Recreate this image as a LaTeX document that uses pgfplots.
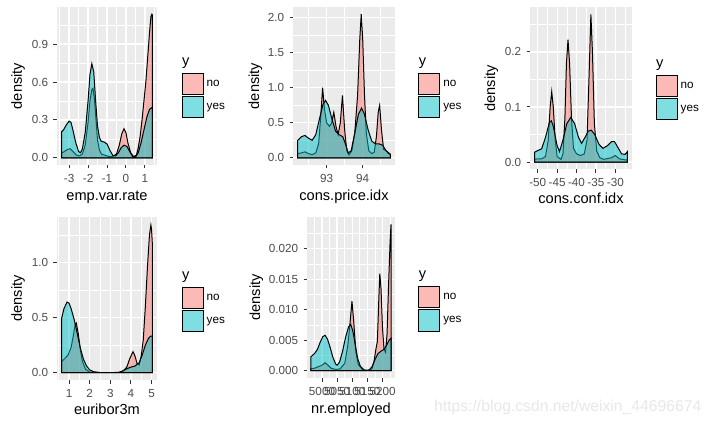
\documentclass[border=0pt]{standalone}
\usepackage{fontspec}
\setmainfont{Liberation Sans}
\usepackage{pgfplots}
\pgfplotsset{compat=1.18}
\definecolor{ggbg}{HTML}{EBEBEB}
\definecolor{ggred}{HTML}{F8766D}
\definecolor{ggteal}{HTML}{00BFC4}
\definecolor{tickc}{HTML}{333333}
\definecolor{labc}{HTML}{4D4D4D}
\definecolor{wmark}{HTML}{E8E8E8}
\newcommand{\ticksize}{\fontsize{11.7bp}{13bp}\selectfont}
\newcommand{\titlesize}{\fontsize{14.6bp}{17bp}\selectfont}
\pgfplotsset{
  ggpanel/.style={
    scale only axis,
    anchor=north west,
    axis background/.style={fill=ggbg},
    axis line style={draw=none},
    tick align=outside,
    xtick pos=bottom, ytick pos=left,
    major tick length=3.5bp,
    minor tick length=0bp,
    every tick/.style={color=tickc, line width=1bp},
    xmajorgrids, ymajorgrids, xminorgrids, yminorgrids,
    major grid style={white, line width=1.3bp},
    minor grid style={white, line width=0.65bp},
    scaled ticks=false,
    tick label style={font=\ticksize, color=labc},
    xticklabel style={inner sep=0pt, yshift=-5.5bp},
    yticklabel style={inner sep=0pt, xshift=-5.2bp},
    xlabel style={font=\titlesize, anchor=base, inner sep=0pt},
    ylabel style={font=\titlesize, anchor=base, inner sep=0pt},
    ylabel={density},
    legend cell align=left,
    legend style={draw=none, fill=none, inner sep=0pt, outer sep=0pt,
      at={(axis description cs:1,1)}, anchor=north west,
      row sep=1.5bp, column sep=3bp,
      nodes={inner sep=0pt, font=\ticksize, text=black}},
    legend image code/.code={\draw[#1] (0bp,-10.5bp) rectangle (21bp,10.5bp);},
  },
  gg/.style={draw=black, line width=1bp, fill opacity=0.5},
}
\begin{document}
\begin{tikzpicture}
\useasboundingbox (0,0) rectangle (712bp,424bp);
\fill[white] (0,0) rectangle (712bp,424bp);

% ---------------- Panel 1: emp.var.rate
\begin{axis}[ggpanel, name=p1, at={(57bp,417bp)}, width=100bp, height=158bp,
  xmin=-3.64, xmax=1.64, ymin=-0.057, ymax=1.194,
  xtick={-3,-2,-1,0,1}, xticklabels={-3,-2,-1,0,1},
  minor xtick={-3.5,-2.5,-1.5,-0.5,0.5,1.5},
  ytick={0,0.3,0.6,0.9}, yticklabels={0.0,0.3,0.6,0.9},
  minor ytick={0.15,0.45,0.75,1.05},
  xlabel={emp.var.rate},
  xlabel style={at={(axis description cs:0.5,-0.2247)}},
  ylabel style={at={(axis description cs:-0.35,0.5)}},
  legend style={xshift=24.7bp, yshift=-66bp}]
\addplot[gg, fill=ggred] table {
-3.4 0.04
-3.3 0.045
-3.1 0.065
-2.95 0.072
-2.8 0.05
-2.6 0.02
-2.45 0.015
-2.3 0.03
-2.15 0.1
-2.0 0.28
-1.9 0.45
-1.8 0.54
-1.74 0.55
-1.66 0.46
-1.58 0.3
-1.5 0.14
-1.4 0.06
-1.3 0.03
-1.1 0.02
-0.9 0.01
-0.7 0.01
-0.5 0.03
-0.35 0.1
-0.22 0.19
-0.1 0.23
0.0 0.2
0.1 0.12
0.25 0.04
0.4 0.01
0.55 0.02
0.65 0.08
0.75 0.17
0.85 0.3
0.95 0.45
1.05 0.6
1.15 0.8
1.25 1.0
1.32 1.12
1.37 1.137
1.4 1.13
} \closedcycle;
\addlegendentry{no}
\addplot[gg, fill=ggteal] table {
-3.4 0.205
-3.3 0.22
-3.15 0.26
-3.0 0.29
-2.9 0.28
-2.8 0.22
-2.65 0.12
-2.5 0.05
-2.4 0.04
-2.3 0.07
-2.15 0.2
-2.0 0.45
-1.9 0.66
-1.8 0.745
-1.7 0.68
-1.6 0.45
-1.5 0.25
-1.4 0.16
-1.3 0.13
-1.15 0.125
-1.0 0.11
-0.85 0.06
-0.7 0.02
-0.55 0.015
-0.4 0.04
-0.25 0.08
-0.1 0.1
0.05 0.09
0.2 0.05
0.35 0.01
0.5 0.005
0.65 0.04
0.8 0.12
0.95 0.22
1.1 0.32
1.25 0.385
1.4 0.4
} \closedcycle;
\addlegendentry{yes}
\end{axis}
\node[font=\titlesize, anchor=base west, inner sep=0pt] at ([xshift=25bp,yshift=-59bp]p1.north east) {y};

% ---------------- Panel 2: cons.price.idx
\begin{axis}[ggpanel, name=p2, at={(293bp,417bp)}, width=102bp, height=158bp,
  xmin=92.07, xmax=94.895, ymin=-0.1025, ymax=2.1525,
  xtick={93,94}, xticklabels={93,94},
  minor xtick={92.5,93.5,94.5},
  ytick={0,0.5,1,1.5,2}, yticklabels={0.0,0.5,1.0,1.5,2.0},
  minor ytick={0.25,0.75,1.25,1.75},
  xlabel={cons.price.idx},
  xlabel style={at={(axis description cs:0.5,-0.2247)}},
  ylabel style={at={(axis description cs:-0.333,0.5)}},
  legend style={xshift=23.3bp, yshift=-66bp}]
\addplot[gg, fill=ggred] table {
92.201 0.06
92.3 0.07
92.4 0.085
92.5 0.06
92.6 0.045
92.7 0.07
92.78 0.2
92.84 0.6
92.89 1.0
92.94 0.7
93.0 0.5
93.08 0.45
93.14 0.5
93.2 0.65
93.26 0.45
93.32 0.33
93.38 0.5
93.44 0.89
93.5 0.4
93.56 0.1
93.62 0.04
93.7 0.1
93.78 0.35
93.86 0.9
93.92 1.7
93.96 2.05
94.0 1.7
94.05 0.9
94.1 0.35
94.17 0.1
94.25 0.06
94.32 0.08
94.38 0.3
94.43 0.65
94.47 0.75
94.52 0.4
94.58 0.12
94.65 0.1
94.72 0.07
94.767 0.05
} \closedcycle;
\addlegendentry{no}
\addplot[gg, fill=ggteal] table {
92.201 0.25
92.3 0.3
92.4 0.32
92.5 0.28
92.6 0.25
92.7 0.33
92.8 0.55
92.9 0.76
92.97 0.82
93.05 0.75
93.15 0.55
93.25 0.38
93.35 0.33
93.45 0.3
93.52 0.2
93.6 0.07
93.68 0.1
93.78 0.35
93.88 0.62
93.97 0.71
94.05 0.62
94.15 0.4
94.25 0.24
94.35 0.2
94.45 0.2
94.55 0.18
94.65 0.1
94.72 0.06
94.767 0.05
} \closedcycle;
\addlegendentry{yes}
\end{axis}
\node[font=\titlesize, anchor=base west, inner sep=0pt] at ([xshift=23.6bp,yshift=-59bp]p2.north east) {y};

% ---------------- Panel 3: cons.conf.idx
\begin{axis}[ggpanel, name=p3, at={(530bp,417bp)}, width=102bp, height=162.5bp,
  xmin=-52.0, xmax=-25.7, ymin=-0.0134, ymax=0.2814,
  xtick={-50,-45,-40,-35,-30}, xticklabels={-50,-45,-40,-35,-30},
  minor xtick={-47.5,-42.5,-37.5,-32.5,-27.5},
  ytick={0,0.1,0.2}, yticklabels={0.0,0.1,0.2},
  minor ytick={0.05,0.15,0.25},
  xlabel={cons.conf.idx},
  xlabel style={at={(axis description cs:0.5,-0.2123)}},
  ylabel style={at={(axis description cs:-0.343,0.5)}},
  legend style={xshift=23.7bp, yshift=-68bp}]
\addplot[gg, fill=ggred] table {
-50.8 0.005
-50 0.006
-49 0.006
-48 0.01
-47.3 0.04
-46.8 0.1
-46.4 0.128
-46.0 0.1
-45.5 0.04
-45 0.01
-44 0.005
-43.5 0.015
-43 0.08
-42.6 0.18
-42.2 0.222
-41.8 0.18
-41.3 0.08
-40.8 0.025
-40 0.015
-39 0.012
-38 0.015
-37.3 0.04
-36.8 0.15
-36.3 0.268
-35.9 0.2
-35.4 0.07
-34.8 0.02
-34 0.008
-33 0.005
-31 0.008
-30 0.012
-29 0.006
-27.5 0.004
-26.9 0.004
} \closedcycle;
\addlegendentry{no}
\addplot[gg, fill=ggteal] table {
-50.8 0.018
-50 0.021
-49 0.024
-48 0.045
-47 0.072
-46.5 0.075
-46 0.065
-45 0.03
-44.4 0.019
-43.5 0.04
-42.5 0.07
-41.5 0.081
-40.5 0.07
-39.5 0.045
-38.7 0.034
-37.8 0.045
-37 0.056
-36.2 0.058
-35.3 0.05
-34.2 0.032
-33.2 0.025
-32 0.03
-31 0.037
-30.2 0.037
-29.2 0.025
-28.4 0.015
-27.5 0.014
-26.9 0.019
} \closedcycle;
\addlegendentry{yes}
\end{axis}
\node[font=\titlesize, anchor=base west, inner sep=0pt] at ([xshift=24bp,yshift=-61bp]p3.north east) {y};

% ---------------- Panel 4: euribor3m
\begin{axis}[ggpanel, name=p4, at={(57bp,207bp)}, width=100bp, height=163bp,
  xmin=0.4135, xmax=5.2655, ymin=-0.067, ymax=1.412,
  xtick={1,2,3,4,5}, xticklabels={1,2,3,4,5},
  minor xtick={0.5,1.5,2.5,3.5,4.5},
  ytick={0,0.5,1}, yticklabels={0.0,0.5,1.0},
  minor ytick={0.25,0.75,1.25},
  xlabel={euribor3m},
  xlabel style={at={(axis description cs:0.5,-0.2147)}},
  ylabel style={at={(axis description cs:-0.35,0.5)}},
  legend style={xshift=24.7bp, yshift=-69.7bp}]
\addplot[gg, fill=ggred] table {
0.634 0.1
0.8 0.13
0.95 0.16
1.1 0.23
1.2 0.33
1.3 0.44
1.35 0.45
1.45 0.35
1.55 0.2
1.65 0.1
1.8 0.03
2.0 0.005
2.5 0
3.4 0
3.6 0.01
3.8 0.05
3.95 0.13
4.1 0.19
4.2 0.15
4.3 0.08
4.4 0.07
4.5 0.15
4.6 0.3
4.7 0.6
4.8 0.95
4.9 1.25
4.97 1.34
5.0 1.3
5.045 1.15
} \closedcycle;
\addlegendentry{no}
\addplot[gg, fill=ggteal] table {
0.634 0.49
0.75 0.58
0.9 0.64
1.0 0.63
1.1 0.58
1.25 0.48
1.4 0.35
1.55 0.22
1.7 0.12
1.85 0.06
2.0 0.025
2.2 0.008
2.5 0.001
3.0 0
3.4 0.002
3.6 0.015
3.8 0.035
4.0 0.05
4.2 0.06
4.4 0.09
4.55 0.16
4.7 0.25
4.85 0.31
4.95 0.33
5.045 0.33
} \closedcycle;
\addlegendentry{yes}
\end{axis}
\node[font=\titlesize, anchor=base west, inner sep=0pt] at ([xshift=25bp,yshift=-62.7bp]p4.north east) {y};

% ---------------- Panel 5: nr.employed
\begin{axis}[ggpanel, name=p5, at={(307bp,207bp)}, width=88bp, height=161bp,
  xmin=4950.4, xmax=5241.3, ymin=-0.0012, ymax=0.0252,
  xtick={5000,5050,5100,5150,5200}, xticklabels={5000,5050,5100,5150,5200},
  minor xtick={4975,5025,5075,5125,5175,5225},
  ytick={0,0.005,0.01,0.015,0.02}, yticklabels={0.000,0.005,0.010,0.015,0.020},
  minor ytick={0.0025,0.0075,0.0125,0.0175,0.0225},
  xlabel={nr.employed},
  xlabel style={at={(axis description cs:0.5,-0.2174)}},
  ylabel style={at={(axis description cs:-0.534,0.5)}},
  legend style={xshift=23.3bp, yshift=-69bp}]
\addplot[gg, fill=ggred] table {
4963.6 0.0003
4975 0.0004
4990 0.0007
5000 0.0009
5010 0.0013
5020 0.0009
5030 0.0004
5045 0.0002
5060 0.0003
5075 0.0012
5085 0.004
5093 0.008
5099 0.0114
5105 0.008
5112 0.003
5120 0.001
5135 0.0001
5150 0
5165 0.0003
5172 0.0015
5178 0.0035
5183 0.0048
5188 0.012
5191 0.0159
5195 0.0135
5200 0.007
5205 0.0035
5210 0.003
5215 0.006
5220 0.014
5225 0.021
5228.1 0.024
} \closedcycle;
\addlegendentry{no}
\addplot[gg, fill=ggteal] table {
4963.6 0.0023
4975 0.0028
4985 0.0035
4995 0.0048
5003 0.0056
5010 0.0058
5018 0.0052
5027 0.0038
5036 0.0022
5045 0.0011
5050 0.0009
5058 0.0014
5068 0.0032
5078 0.0055
5088 0.0072
5095 0.0076
5102 0.0065
5110 0.0042
5118 0.002
5127 0.0007
5140 0.0001
5155 0.0001
5165 0.0006
5175 0.0018
5185 0.0028
5195 0.0032
5205 0.0035
5215 0.0043
5222 0.005
5228.1 0.0053
} \closedcycle;
\addlegendentry{yes}
\end{axis}
\node[font=\titlesize, anchor=base west, inner sep=0pt] at ([xshift=23.6bp,yshift=-62bp]p5.north east) {y};

\node[font=\fontsize{15.7bp}{18bp}\selectfont, text=wmark, anchor=base west, inner sep=0pt] at (434bp,12.5bp) {https://blog.csdn.net/weixin\_44696674};
\end{tikzpicture}
\end{document}
